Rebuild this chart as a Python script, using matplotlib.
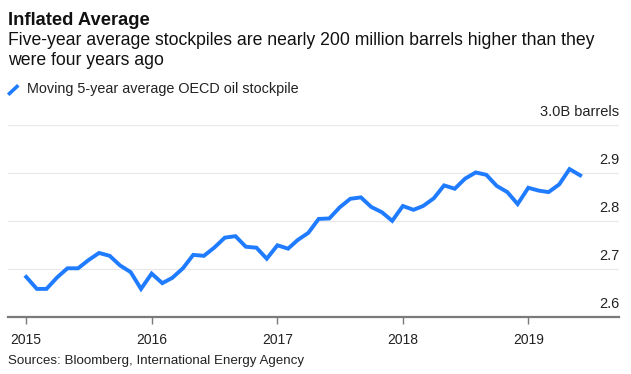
import numpy as np
import pandas as pd
import matplotlib
matplotlib.use("Agg")
import matplotlib.pyplot as plt
import matplotlib.dates as mdates
from matplotlib.transforms import blended_transform_factory, offset_copy

plt.rcParams['font.family'] = ['Liberation Sans', 'DejaVu Sans']

# monthly, Jan 2015 .. Jun 2019, billion barrels
months = pd.date_range("2015-01-01", "2019-06-01", freq="MS")
stocks = [
    2.683, 2.658, 2.658, 2.682, 2.701, 2.701, 2.718, 2.733, 2.727, 2.707, 2.693, 2.658,
    2.690, 2.670, 2.681, 2.701, 2.729, 2.727, 2.744, 2.765, 2.768, 2.746, 2.744, 2.721,
    2.749, 2.742, 2.760, 2.775, 2.804, 2.805, 2.828, 2.846, 2.849, 2.829, 2.818, 2.800,
    2.831, 2.823, 2.831, 2.847, 2.874, 2.867, 2.888, 2.901, 2.896, 2.873, 2.860, 2.835,
    2.869, 2.863, 2.860, 2.876, 2.908, 2.895,
]
yticks = [2.6, 2.7, 2.8, 2.9, 3.0]
ytick_labels = ["2.6", "2.7", "2.8", "2.9", "3.0B barrels"]
xtick_years = [2015, 2016, 2017, 2018, 2019]

BLUE = "#1f7bff"
W, H = 631, 374

fig = plt.figure(figsize=(W / 100, H / 100), dpi=100)


def fx(px):
    return px / W


def fy(py):
    return 1 - py / H


ax = fig.add_axes([fx(8), fy(316.7), fx(619 - 8), fy(125) - fy(316.7)])
ax.plot(months, stocks, color=BLUE, lw=2.8, solid_joinstyle="miter")

ax.set_ylim(2.6, 3.0)
ax.set_xlim(pd.Timestamp("2014-11-09"), pd.Timestamp("2019-09-22"))

for s in ["top", "right", "left"]:
    ax.spines[s].set_visible(False)
ax.spines["bottom"].set_color("#7a7a7a")
ax.spines["bottom"].set_linewidth(1.6)

ax.set_yticks(yticks)
ax.set_yticklabels([])
ax.tick_params(axis="y", length=0)
ax.grid(axis="y", color="#e8e8e8", lw=0.9)
ax.set_axisbelow(True)

trans = blended_transform_factory(ax.transAxes, ax.transData)
trans = offset_copy(trans, fig=fig, x=0, y=6.6, units="points")
for v, lab in zip(yticks, ytick_labels):
    ax.text(1.0, v, lab, transform=trans, ha="right", va="baseline",
            fontsize=10.5, color="#222222")

ax.set_xticks([pd.Timestamp(f"{y}-01-01") for y in xtick_years])
ax.xaxis.set_major_formatter(mdates.DateFormatter("%Y"))
ax.tick_params(axis="x", length=5, width=1, color="#7a7a7a", labelsize=10,
               labelcolor="#222222", pad=7)

fig.text(fx(8), fy(25), "Inflated Average", fontsize=13.2, fontweight="bold",
         va="baseline", color="#111111")
fig.text(fx(8), fy(45), "Five-year average stockpiles are nearly 200 million barrels higher than they",
         fontsize=12.7, va="baseline", color="#111111")
fig.text(fx(8), fy(65), "were four years ago", fontsize=12.7, va="baseline", color="#111111")

fig.lines.append(plt.Line2D([fx(9.5), fx(17)], [fy(93.5), fy(86.5)], transform=fig.transFigure,
                            color=BLUE, lw=2.6))
fig.text(fx(27), fy(93.3), "Moving 5-year average OECD oil stockpile", fontsize=10.4,
         va="baseline", color="#222222")
fig.text(fx(8), fy(364), "Sources: Bloomberg, International Energy Agency", fontsize=9.6,
         va="baseline", color="#222222")

fig.savefig("out.png", dpi=100)
